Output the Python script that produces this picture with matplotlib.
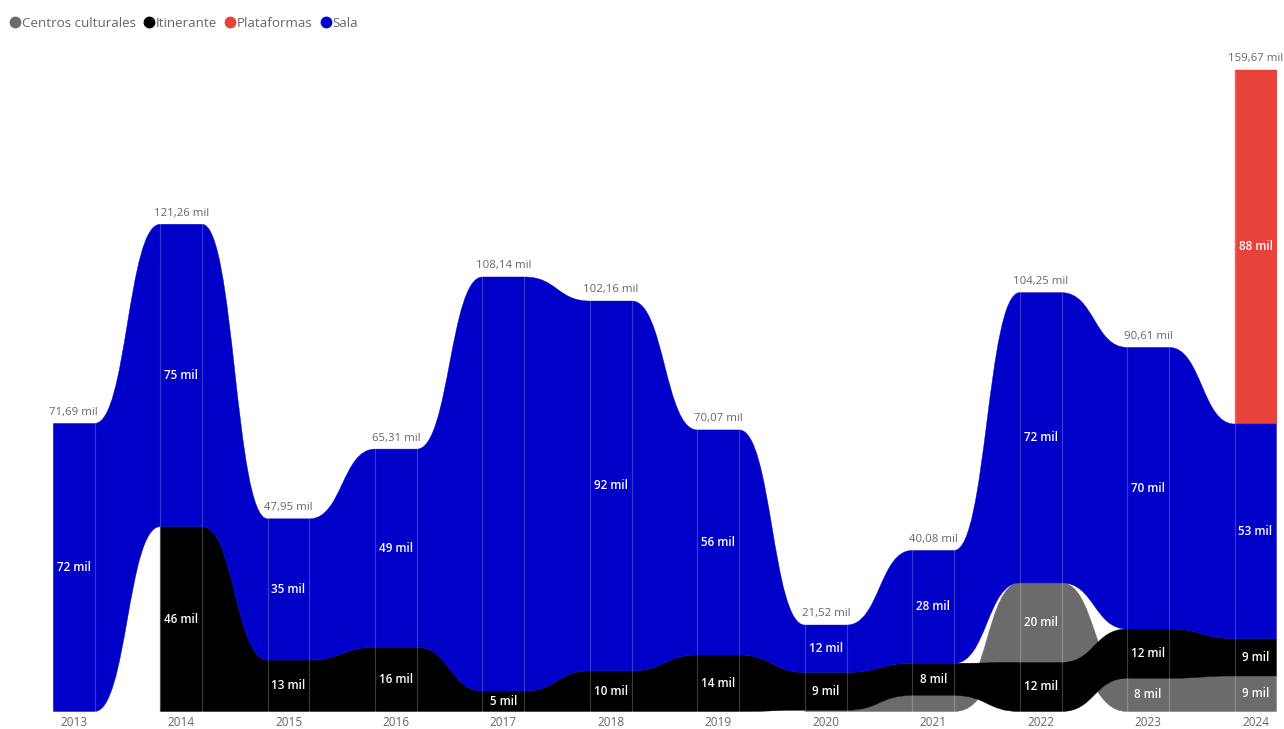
import matplotlib
matplotlib.use("Agg")
import matplotlib.pyplot as plt
from matplotlib.path import Path
from matplotlib.patches import PathPatch
from matplotlib.lines import Line2D

plt.rcParams['font.family'] = ['Open Sans', 'DejaVu Sans']

# ---------------- data (thousands) ----------------
years = [2013, 2014, 2015, 2016, 2017, 2018, 2019, 2020, 2021, 2022, 2023, 2024]
series_names = ["Centros culturales", "Itinerante", "Plataformas", "Sala"]
centros = [0, 0, 0, 0, 0, 0, 0, 0.32, 4.00, 19.80, 8.26, 8.84]
itinerante = [0, 46.00, 12.80, 16.00, 5.10, 10.10, 14.06, 9.40, 8.00, 12.20, 12.27, 9.28]
plataformas = [0, 0, 0, 0, 0, 0, 0, 0, 0, 0, 0, 88.12]
sala = [71.69, 75.26, 35.15, 49.31, 103.04, 92.06, 56.01, 11.80, 28.08, 72.25, 70.08, 53.43]
hidden_labels = [("Sala", 2017)]

colors = ["#6b6b6b", "#000000", "#e8433a", "#0000c8"]
values = [centros, itinerante, plataformas, sala]

n = len(years)
ns = len(values)
w = 0.195  # half bar width in column units

# stacking: per column, largest on top
bottoms = [[0.0] * n for _ in range(ns)]
tops = [[0.0] * n for _ in range(ns)]
totals = []
for j in range(n):
    order = sorted([k for k in range(ns) if values[k][j] > 0], key=lambda k: values[k][j])
    acc = 0.0
    for k in order:
        bottoms[k][j] = acc
        acc += values[k][j]
        tops[k][j] = acc
    totals.append(acc)

fig = plt.figure(figsize=(12.84, 7.29), dpi=100)
ymax = 170.0
ax = fig.add_axes([52.7 / 1284, 17.5 / 729, (1276.5 - 52.7) / 1284, (ymax * 4.018) / 729])
ax.set_xlim(-w, n - 1 + w)
ax.set_ylim(0, ymax)


def run_path(k, j0, j1):
    verts, codes = [], []
    top, bot = tops[k], bottoms[k]
    verts.append((j0 - w, top[j0])); codes.append(Path.MOVETO)
    verts.append((j0 + w, top[j0])); codes.append(Path.LINETO)
    for j in range(j0 + 1, j1 + 1):
        xm = j - 0.5
        verts += [(xm, top[j - 1]), (xm, top[j]), (j - w, top[j])]
        codes += [Path.CURVE4] * 3
        verts.append((j + w, top[j])); codes.append(Path.LINETO)
    verts.append((j1 + w, bot[j1])); codes.append(Path.LINETO)
    verts.append((j1 - w, bot[j1])); codes.append(Path.LINETO)
    for j in range(j1, j0, -1):
        xm = j - 0.5
        verts += [(xm, bot[j]), (xm, bot[j - 1]), (j - 1 + w, bot[j - 1])]
        codes += [Path.CURVE4] * 3
        verts.append((j - 1 - w, bot[j - 1])); codes.append(Path.LINETO)
    verts.append((j0 - w, top[j0])); codes.append(Path.CLOSEPOLY)
    return Path(verts, codes)


for k in range(ns):
    j = 0
    while j < n:
        if values[k][j] > 0:
            j0 = j
            while j + 1 < n and values[k][j + 1] > 0:
                j += 1
            p = run_path(k, j0, j)
            ax.add_patch(PathPatch(p, facecolor=colors[k], edgecolor=colors[k], lw=0.3, zorder=2 + k))
        j += 1

# faint column edge lines
for j in range(n):
    for xe in (j - w, j + w):
        ax.plot([xe, xe], [0, totals[j]], color="white", alpha=0.22, lw=0.9, zorder=10)

# segment labels
px_per_unit = 4.018
for k in range(ns):
    for j in range(n):
        v = values[k][j]
        if v <= 0 or (series_names[k], years[j]) in hidden_labels:
            continue
        if v * px_per_unit < 18:
            continue
        ax.text(j, (bottoms[k][j] + tops[k][j]) / 2, f"{round(v)} mil", color="white",
                ha="center", va="center", fontsize=8.4, fontweight="semibold", zorder=12)

# total labels
for j in range(n):
    lab = f"{totals[j]:.2f}".replace(".", ",") + " mil"
    ax.annotate(lab, (j, totals[j]), xytext=(0, 4), textcoords="offset points",
                ha="center", va="bottom", fontsize=8.2, color="#666666", zorder=12)

ax.set_xticks(range(n))
ax.set_xticklabels([str(y) for y in years], fontsize=8.5, color="#666666")
ax.tick_params(axis="x", length=0, pad=3)
ax.set_yticks([])
for s in ax.spines.values():
    s.set_visible(False)

handles = [Line2D([], [], marker="o", linestyle="", color=c, markersize=7.5) for c in colors]
fig.legend(handles, series_names, loc="upper left", bbox_to_anchor=(9 / 1284, 1 - 17 / 729), ncol=4,
           frameon=False, handletextpad=0.05, columnspacing=0.55, borderaxespad=0, borderpad=0,
           handlelength=0.9, fontsize=9.6, labelcolor="#666666")

fig.savefig("out.png", dpi=100)
